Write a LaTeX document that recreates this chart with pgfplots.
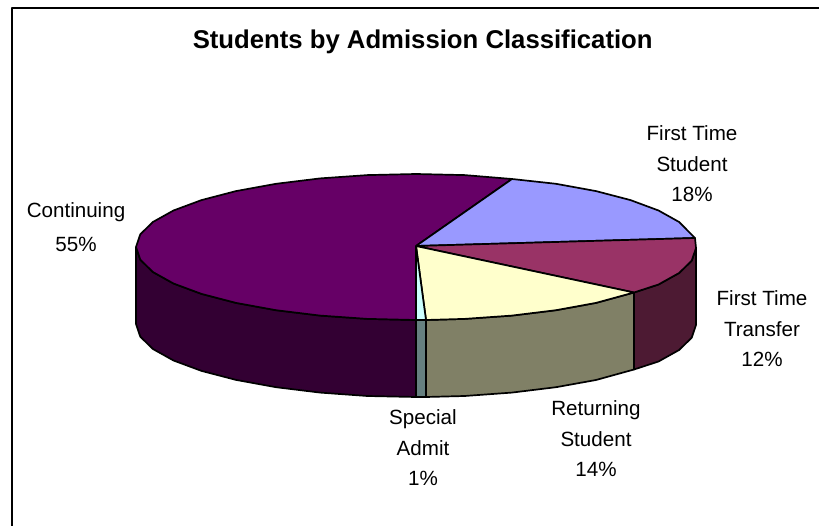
\documentclass[border=0pt]{standalone}
\usepackage{pgfplots}
\pgfplotsset{compat=1.18}
\usepackage{fontspec}
\setmainfont{Liberation Sans}
\definecolor{contTop}{HTML}{660066}
\definecolor{contSide}{HTML}{330033}
\definecolor{ftsTop}{HTML}{9999FF}
\definecolor{fttTop}{HTML}{993366}
\definecolor{fttSide}{HTML}{4D1A33}
\definecolor{retTop}{HTML}{FFFFCC}
\definecolor{retSide}{HTML}{808066}
\definecolor{speTop}{HTML}{CCFFFF}
\definecolor{speSide}{HTML}{668080}
\tikzset{lab/.style={font=\fontsize{20.6}{30.5}\selectfont, align=center, inner sep=0pt, text=black}}
\begin{document}
\begin{tikzpicture}
\useasboundingbox (0,0) rectangle (819pt,526pt);
\begin{axis}[
    at={(0,0)}, anchor=south west,
    scale only axis, width=819pt, height=526pt,
    xmin=0, xmax=819, ymin=0, ymax=526, y dir=reverse,
    hide axis, clip=false,
    every axis plot/.append style={draw=black, line width=1.7pt, line join=round},
  ]

  % frame of the chart area: only top and left are in the picture
  \addplot[line width=2pt] coordinates {(12,526) (12,8) (819,8)};

  % side walls
  \addplot[fill=contSide] coordinates {(136,247) (140.3,259.7) (152.9,272) (173.5,283.5) (201.5,293.9) (236,302.9) (276,310.2) (320.2,315.6) (367.4,318.9) (416,320)
    (416,397) (367.4,396) (320.2,392.6) (276,387.2) (236,379.9) (201.5,370.9) (173.5,360.5) (152.9,349) (140.3,336.7) (136,324) (136,247)};
  \addplot[fill=speSide] coordinates {(416,320) (426,320) (426,397) (416,397) (416,320)};
  \addplot[fill=retSide] coordinates {(426,320) (464.6,318.9) (511.8,315.6) (556,310.2) (596,302.9) (634,292.5)
    (634,369.5) (596,380) (556,387.2) (511.8,392.6) (464.6,396) (426,397) (426,320)};
  \addplot[fill=fttSide] coordinates {(634,292.5) (658.5,284.5) (679.1,273) (691.7,260.7) (696,248)
    (696,325) (691.7,337.7) (679.1,350) (658.5,361.5) (634,369.5) (634,292.5)};

  % top slices
  \addplot[fill=contTop] coordinates {(416,246) (416,320) (367.4,318.9) (320.2,315.6) (276,310.2) (236,302.9) (201.5,293.9) (173.5,283.5) (152.9,272) (140.3,259.7) (136,247)
    (140.3,234.3) (152.9,222) (173.5,210.5) (201.5,200.1) (236,191.1) (276,183.8) (320.2,178.4) (367.4,175.1) (416,174) (464.6,175.1) (512,179) (416,246)};
  \addplot[fill=ftsTop] coordinates {(416,246) (512,179) (556,183.8) (596,191.1) (630.5,200.1) (658.5,210.5) (679.1,222) (691,234) (695,238) (416,246)};
  \addplot[fill=fttTop] coordinates {(416,246) (695,238) (696,248) (691.7,260.7) (679.1,273) (658.5,284.5) (634,292.5) (416,246)};
  \addplot[fill=retTop] coordinates {(416,246) (634,292.5) (596,302.9) (556,310.2) (511.8,315.6) (464.6,318.9) (426,320) (416,246)};
  \addplot[fill=speTop] coordinates {(416,246) (426,320) (416,320) (416,246)};

  % texts
  \node[font=\fontsize{25.7}{30}\selectfont\bfseries, inner sep=0pt, anchor=base] at (axis cs:422.7,48.7) {Students by Admission Classification};
  \node[lab] at (axis cs:76,227) {Continuing\\[3.5pt]55\%};
  \node[lab] at (axis cs:692,164) {First Time\\Student\\18\%};
  \node[lab] at (axis cs:762,329) {First Time\\Transfer\\12\%};
  \node[lab] at (axis cs:596,439) {Returning\\Student\\14\%};
  \node[lab] at (axis cs:423,448) {Special\\Admit\\1\%};
\end{axis}
\end{tikzpicture}
\end{document}
